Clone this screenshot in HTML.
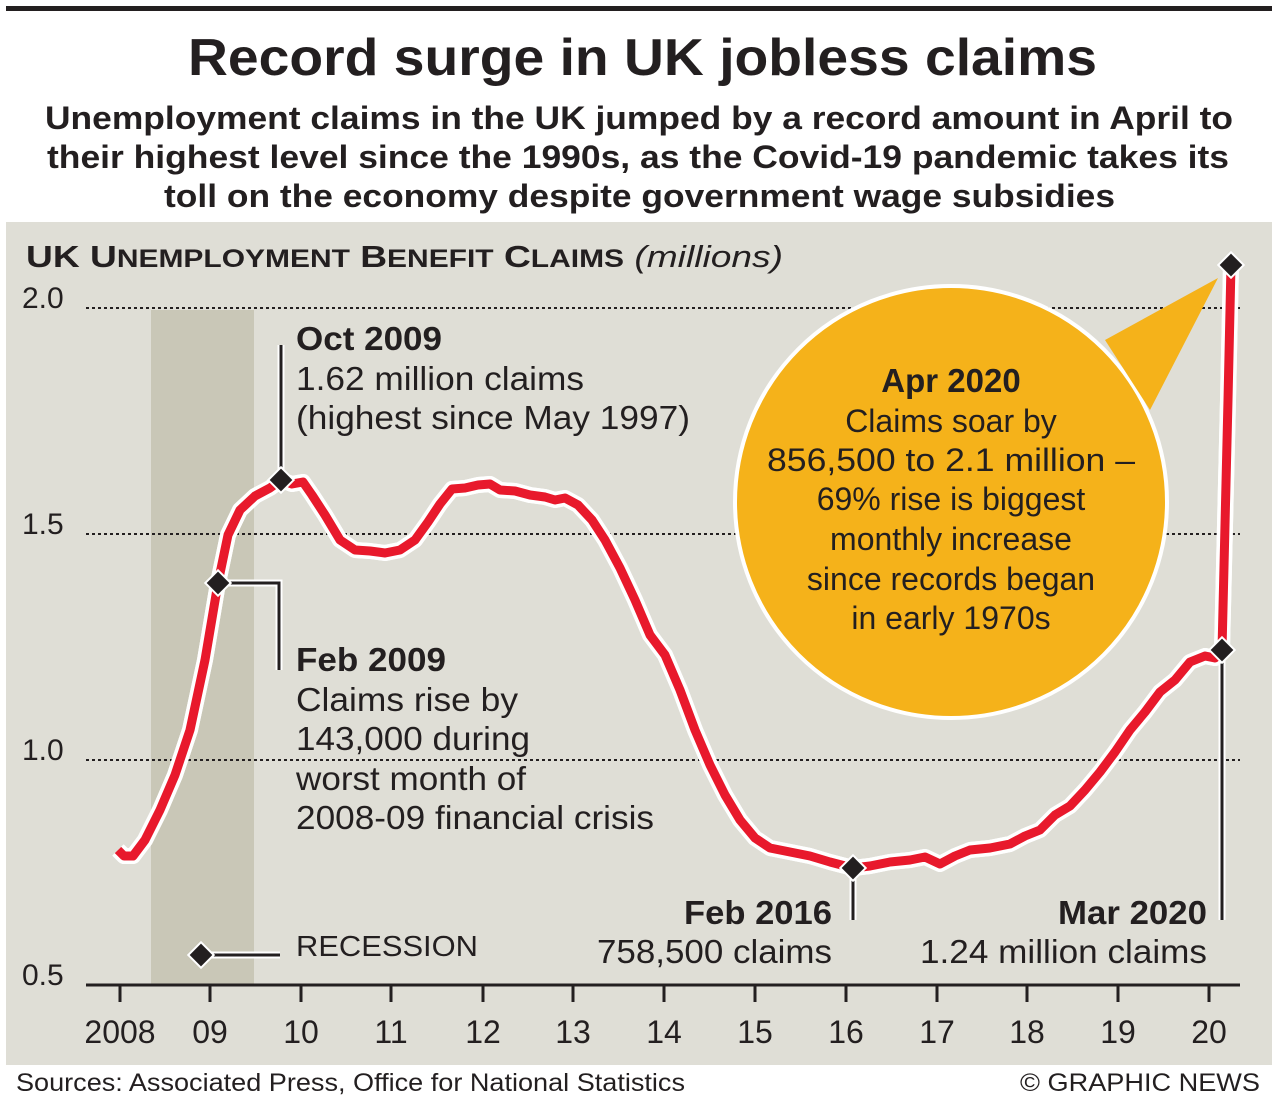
<!DOCTYPE html>
<html><head><meta charset="utf-8"><style>
html,body{margin:0;padding:0;background:#fff}
svg{display:block}
text{font-family:"Liberation Sans",Arial,sans-serif}
</style></head><body>
<svg width="1278" height="1110" viewBox="0 0 1278 1110">
<rect width="1278" height="1110" fill="#fff"/>
<rect x="6" y="6" width="1266" height="5" fill="#231f20"/>
<text x="188" y="75" textLength="909" lengthAdjust="spacingAndGlyphs" font-size="52" font-weight="bold" fill="#231f20">Record surge in UK jobless claims</text>
<g font-size="32" font-weight="bold" fill="#231f20" lengthAdjust="spacingAndGlyphs">
<text x="45" y="129" textLength="1188" lengthAdjust="spacingAndGlyphs">Unemployment claims in the UK jumped by a record amount in April to</text>
<text x="47" y="168" textLength="1182" lengthAdjust="spacingAndGlyphs">their highest level since the 1990s, as the Covid-19 pandemic takes its</text>
<text x="164" y="207" textLength="951" lengthAdjust="spacingAndGlyphs">toll on the economy despite government wage subsidies</text>
</g>
<rect x="6" y="222" width="1266" height="843" fill="#dfded6"/>
<rect x="151" y="310" width="103" height="675" fill="#c9c7b7"/>
<text x="26" y="267" textLength="757" lengthAdjust="spacingAndGlyphs" font-size="31" font-weight="bold" fill="#231f20">UK U<tspan font-size="25">NEMPLOYMENT</tspan> B<tspan font-size="25">ENEFIT</tspan> C<tspan font-size="25">LAIMS</tspan> <tspan font-weight="normal" font-style="italic" font-size="31">(millions)</tspan></text>
<g stroke="#231f20" stroke-width="2" stroke-dasharray="3,3">
<line x1="86" y1="308" x2="1240" y2="308"/>
<line x1="86" y1="534" x2="1240" y2="534"/>
<line x1="86" y1="760" x2="1240" y2="760"/>
</g>
<g font-size="30" fill="#231f20">
<text x="22" y="308">2.0</text>
<text x="22" y="534">1.5</text>
<text x="22" y="760">1.0</text>
<text x="22" y="985">0.5</text>
</g>
<line x1="86" y1="985" x2="1240" y2="985" stroke="#231f20" stroke-width="3"/>
<g stroke="#231f20" stroke-width="3">
<line x1="120" y1="985" x2="120" y2="1002"/><line x1="210" y1="985" x2="210" y2="1002"/><line x1="301" y1="985" x2="301" y2="1002"/><line x1="391" y1="985" x2="391" y2="1002"/><line x1="483" y1="985" x2="483" y2="1002"/><line x1="573" y1="985" x2="573" y2="1002"/><line x1="664" y1="985" x2="664" y2="1002"/><line x1="755" y1="985" x2="755" y2="1002"/><line x1="846" y1="985" x2="846" y2="1002"/><line x1="937" y1="985" x2="937" y2="1002"/><line x1="1027" y1="985" x2="1027" y2="1002"/><line x1="1118" y1="985" x2="1118" y2="1002"/><line x1="1209" y1="985" x2="1209" y2="1002"/>
</g>
<g font-size="32" fill="#231f20" text-anchor="middle">
<text x="120" y="1043">2008</text><text x="210" y="1043">09</text><text x="301" y="1043">10</text><text x="391" y="1043">11</text><text x="483" y="1043">12</text><text x="573" y="1043">13</text><text x="664" y="1043">14</text><text x="755" y="1043">15</text><text x="846" y="1043">16</text><text x="937" y="1043">17</text><text x="1027" y="1043">18</text><text x="1118" y="1043">19</text><text x="1209" y="1043">20</text>
</g>
<g fill="#f5b21a" stroke="#fff" stroke-width="4">
<circle cx="951" cy="502" r="216"/>
</g>
<polygon points="1105,340 1218,278 1150,410" fill="#f5b21a"/>
<g font-size="32" fill="#231f20" text-anchor="middle">
<text x="951" y="392" font-weight="bold" font-size="33">Apr 2020</text>
<text x="951" y="432">Claims soar by</text>
<text x="951" y="471" textLength="368" lengthAdjust="spacingAndGlyphs">856,500 to 2.1 million –</text>
<text x="951" y="510">69% rise is biggest</text>
<text x="951" y="550">monthly increase</text>
<text x="951" y="590">since records began</text>
<text x="951" y="629">in early 1970s</text>
</g>
<g fill="none">
<g stroke="#fff" stroke-width="7">
<polyline points="281,345 281,480"/>
<polyline points="218,583 279,583 279,670"/>
<polyline points="853,868 853,920"/>
<polyline points="1222,650 1222,920"/>
<polyline points="201,955 280,955"/>
</g>
<g stroke="#231f20" stroke-width="3">
<polyline points="281,345 281,480"/>
<polyline points="218,583 279,583 279,670"/>
<polyline points="853,868 853,920"/>
<polyline points="1222,650 1222,920"/>
<polyline points="201,955 280,955"/>
</g>
</g>
<path id="p" d="M118,850 L124,856 L133,856 L145,840 L160,810 L175,775 L190,730 L205,660 L218,583 L228,535 L240,510 L255,496 L270,488 L281,480 L292,484 L303,482 L312,495 L325,515 L340,540 L355,550 L370,551 L385,553 L400,550 L415,540 L428,522 L440,504 L452,489 L465,488 L478,485 L490,484 L500,490 L515,491 L530,495 L545,497 L555,500 L565,498 L578,505 L592,520 L605,540 L620,568 L635,600 L650,635 L665,655 L680,690 L695,730 L710,765 L725,795 L740,820 L755,838 L770,848 L790,852 L810,856 L830,862 L853,868 L870,866 L890,862 L910,860 L925,857 L940,864 L955,856 L970,850 L990,848 L1010,844 L1025,836 L1040,830 L1055,815 L1070,806 L1085,790 L1100,772 L1115,752 L1130,730 L1145,712 L1160,692 L1175,680 L1190,662 L1205,656 L1215,658 L1222,650 L1228,400 L1231,265" fill="none" stroke="#fff" stroke-width="16" stroke-linejoin="round"/>
<use href="#p" stroke="#e8192c" stroke-width="9" style="stroke:#e8192c;stroke-width:9"/>
<path d="M118,850 L124,856 L133,856 L145,840 L160,810 L175,775 L190,730 L205,660 L218,583 L228,535 L240,510 L255,496 L270,488 L281,480 L292,484 L303,482 L312,495 L325,515 L340,540 L355,550 L370,551 L385,553 L400,550 L415,540 L428,522 L440,504 L452,489 L465,488 L478,485 L490,484 L500,490 L515,491 L530,495 L545,497 L555,500 L565,498 L578,505 L592,520 L605,540 L620,568 L635,600 L650,635 L665,655 L680,690 L695,730 L710,765 L725,795 L740,820 L755,838 L770,848 L790,852 L810,856 L830,862 L853,868 L870,866 L890,862 L910,860 L925,857 L940,864 L955,856 L970,850 L990,848 L1010,844 L1025,836 L1040,830 L1055,815 L1070,806 L1085,790 L1100,772 L1115,752 L1130,730 L1145,712 L1160,692 L1175,680 L1190,662 L1205,656 L1215,658 L1222,650 L1228,400 L1231,265" fill="none" stroke="#e8192c" stroke-width="9" stroke-linejoin="round"/>
<g fill="#231f20" stroke="#fff" stroke-width="2">
<rect x="-9" y="-9" width="18" height="18" transform="translate(281,480) rotate(45)"/>
<rect x="-9" y="-9" width="18" height="18" transform="translate(218,583) rotate(45)"/>
<rect x="-9" y="-9" width="18" height="18" transform="translate(853,868) rotate(45)"/>
<rect x="-9" y="-9" width="18" height="18" transform="translate(1222,650) rotate(45)"/>
<rect x="-9" y="-9" width="18" height="18" transform="translate(1231,265) rotate(45)"/>
<rect x="-9" y="-9" width="18" height="18" transform="translate(201,955) rotate(45)"/>
</g>
<g font-size="33" fill="#231f20">
<text x="296" y="350" font-weight="bold" textLength="146" lengthAdjust="spacingAndGlyphs">Oct 2009</text>
<text x="296" y="390" textLength="288" lengthAdjust="spacingAndGlyphs">1.62 million claims</text>
<text x="296" y="429" textLength="394" lengthAdjust="spacingAndGlyphs">(highest since May 1997)</text>
<text x="296" y="671" font-weight="bold" textLength="150" lengthAdjust="spacingAndGlyphs">Feb 2009</text>
<text x="296" y="711" textLength="222" lengthAdjust="spacingAndGlyphs">Claims rise by</text>
<text x="296" y="750" textLength="234" lengthAdjust="spacingAndGlyphs">143,000 during</text>
<text x="296" y="790" textLength="230" lengthAdjust="spacingAndGlyphs">worst month of</text>
<text x="296" y="829" textLength="358" lengthAdjust="spacingAndGlyphs">2008-09 financial crisis</text>
<text x="296" y="956" font-size="29" textLength="182" lengthAdjust="spacingAndGlyphs">RECESSION</text>
<text x="684" y="924" font-weight="bold" textLength="148" lengthAdjust="spacingAndGlyphs">Feb 2016</text>
<text x="597" y="963" textLength="235" lengthAdjust="spacingAndGlyphs">758,500 claims</text>
<text x="1058" y="924" font-weight="bold" textLength="149" lengthAdjust="spacingAndGlyphs">Mar 2020</text>
<text x="920" y="963" textLength="287" lengthAdjust="spacingAndGlyphs">1.24 million claims</text>
</g>
<text x="16" y="1091" font-size="25" fill="#231f20" textLength="669" lengthAdjust="spacingAndGlyphs">Sources: Associated Press, Office for National Statistics</text>
<text x="1020" y="1091" font-size="25" fill="#231f20" textLength="240" lengthAdjust="spacingAndGlyphs">© GRAPHIC NEWS</text>
</svg>
</body></html>
